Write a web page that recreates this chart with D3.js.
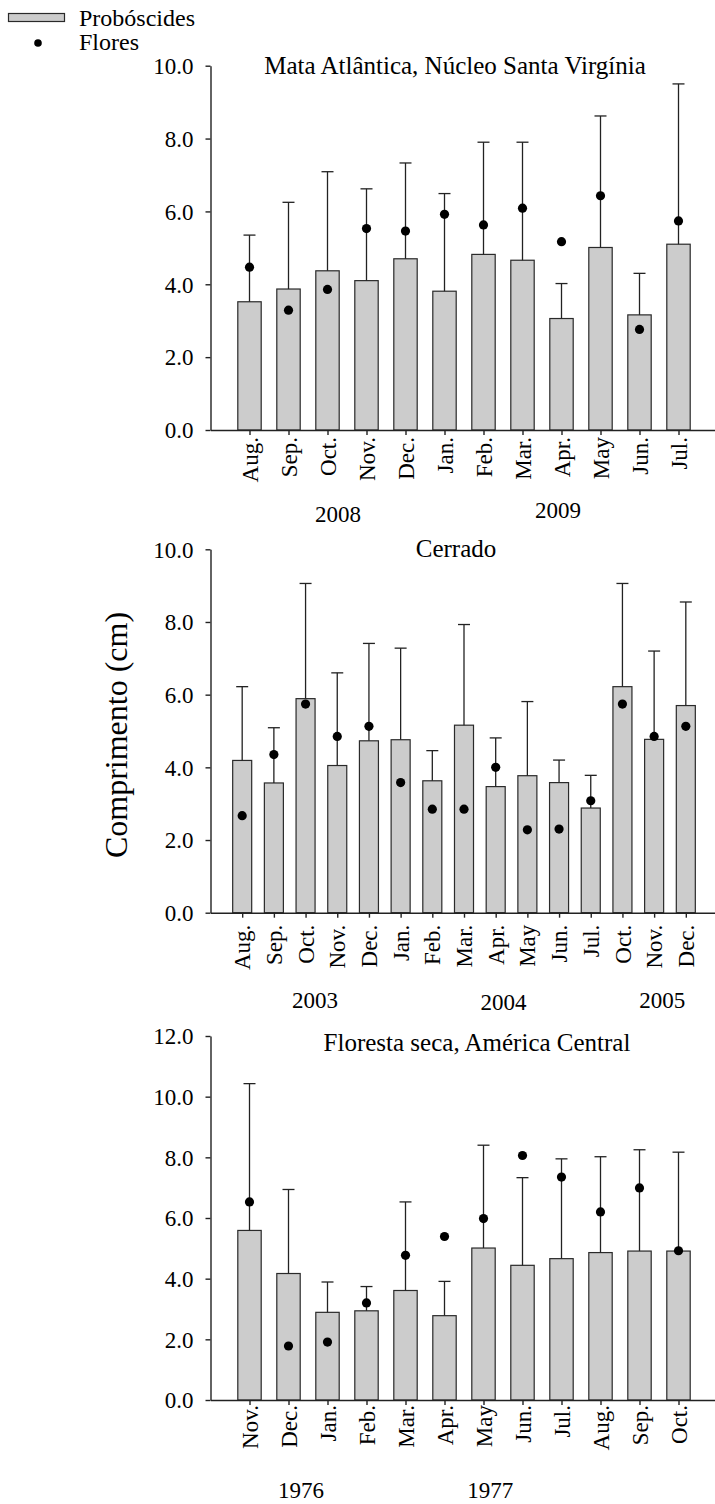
<!DOCTYPE html>
<html>
<head>
<meta charset="utf-8">
<script src="https://cdn.jsdelivr.net/npm/d3@7"></script>
<style>
  body { margin: 0; background: #fff; }
  svg text { font-family: "Liberation Serif", "Times New Roman", serif; fill: #000; }
  .axis path, .axis line { stroke: #222; stroke-width: 1.4; }
</style>
</head>
<body>
<svg id="chart" width="715" height="1504"></svg>
<script>
'use strict';

// Mata Atlântica, Núcleo Santa Virgínia
const mataMonths = ["Aug.", "Sep.", "Oct.", "Nov.", "Dec.", "Jan.", "Feb.", "Mar.", "Apr.", "May", "Jun.", "Jul."];
const mataProboscis = [3.52, 3.87, 4.37, 4.10, 4.70, 3.81, 4.82, 4.66, 3.06, 5.01, 3.16, 5.10];
const mataProboscisSd = [1.83, 2.38, 2.72, 2.52, 2.63, 2.68, 3.08, 3.24, 0.96, 3.61, 1.14, 4.40];
const mataFlowers = [4.47, 3.29, 3.86, 5.53, 5.46, 5.92, 5.63, 6.09, 5.17, 6.43, 2.76, 5.74];
const mataYears = ["2008", "2009"];

// Cerrado
const cerradoMonths = ["Aug.", "Sep.", "Oct.", "Nov.", "Dec.", "Jan.", "Feb.", "Mar.", "Apr.", "May", "Jun.", "Jul.", "Oct.", "Nov.", "Dec."];
const cerradoProboscis = [4.19, 3.57, 5.89, 4.05, 4.73, 4.76, 3.63, 5.16, 3.47, 3.77, 3.58, 2.88, 6.22, 4.77, 5.70];
const cerradoProboscisSd = [2.03, 1.52, 3.17, 2.55, 2.68, 2.52, 0.83, 2.77, 1.34, 2.04, 0.62, 0.90, 2.84, 2.43, 2.85];
const cerradoFlowers = [2.67, 4.35, 5.74, 4.85, 5.13, 3.58, 2.85, 2.85, 4.00, 2.28, 2.30, 3.08, 5.74, 4.85, 5.13];
const cerradoYears = ["2003", "2004", "2005"];

// Floresta seca, América Central
const florestaMonths = ["Nov.", "Dec.", "Jan.", "Feb.", "Mar.", "Apr.", "May", "Jun.", "Jul.", "Aug.", "Sep.", "Oct."];
const florestaProboscis = [5.59, 4.17, 2.89, 2.94, 3.61, 2.78, 5.01, 4.44, 4.66, 4.86, 4.91, 4.91];
const florestaProboscisSd = [4.84, 2.77, 1.00, 0.80, 2.92, 1.13, 3.39, 2.89, 3.29, 3.16, 3.34, 3.26];
const florestaFlowers = [6.53, 1.78, 1.91, 3.20, 4.77, 5.39, 5.98, 8.06, 7.35, 6.20, 6.99, 4.92];
const florestaYears = ["1976", "1977"];

const svg = d3.select("#chart");
const left = 210.5, right = 717.5;

function drawPanel(p) {
  const n = p.months.length;
  const x = d3.scaleLinear().domain([0, n + 1]).range([left, right]);
  const y = d3.scaleLinear().domain([0, p.yMax]).range([p.bottom, p.top]);
  const step = x(1) - x(0);
  const barW = step * 0.6;
  const g = svg.append("g");

  // bars
  g.selectAll("rect.bar")
    .data(p.bars)
    .enter().append("rect")
      .attr("class", "bar")
      .attr("x", (d, i) => x(i + 1) - barW / 2)
      .attr("y", d => y(d))
      .attr("width", barW)
      .attr("height", d => y(0) - y(d))
      .style("fill", "#cccccc")
      .style("stroke", "#2a2a2a")
      .style("stroke-width", 1.2);

  // error bars (upper only)
  const errs = g.selectAll("g.err")
    .data(p.bars.map((d, i) => ({mean: d, sd: p.sd[i], i: i})))
    .enter().append("g").attr("class", "err")
      .style("stroke", "#222").style("stroke-width", 1.3);
  errs.append("line")
    .attr("x1", d => x(d.i + 1)).attr("x2", d => x(d.i + 1))
    .attr("y1", d => y(d.mean)).attr("y2", d => y(d.mean + d.sd));
  errs.append("line")
    .attr("x1", d => x(d.i + 1) - 6).attr("x2", d => x(d.i + 1) + 6)
    .attr("y1", d => y(d.mean + d.sd)).attr("y2", d => y(d.mean + d.sd));

  // flowers
  g.selectAll("circle.flower")
    .data(p.flowers)
    .enter().append("circle")
      .attr("class", "flower")
      .attr("cx", (d, i) => x(i + 1))
      .attr("cy", d => y(d))
      .attr("r", 4.6)
      .style("fill", "#000");

  // axes
  const xAxis = d3.axisBottom(x)
    .tickValues(d3.range(1, n + 1))
    .tickFormat(d => p.months[d - 1])
    .tickSize(5).tickSizeOuter(0);
  const xg = g.append("g").attr("class", "axis")
    .attr("transform", `translate(0,${p.bottom})`)
    .call(xAxis);
  xg.selectAll("text")
    .attr("transform", "rotate(-90)")
    .attr("x", -p.labelGap).attr("y", 0).attr("dy", "0.33em")
    .style("text-anchor", "end")
    .style("font-size", p.labelSize + "px");

  const yAxis = d3.axisLeft(y)
    .tickValues(d3.range(0, p.yMax + 0.1, 2))
    .tickFormat(d => d.toFixed(1))
    .tickSize(5).tickSizeOuter(0).tickPadding(12);
  const yg = g.append("g").attr("class", "axis")
    .attr("transform", `translate(${left},0)`)
    .call(yAxis);
  yg.selectAll("text").style("font-size", "23px").attr("dy", "0.34em");
  svg.selectAll(".axis .domain").style("fill", "none");

  // title
  g.append("text")
    .attr("x", p.titleX).attr("y", p.titleY)
    .style("text-anchor", "middle").style("font-size", "25px")
    .text(p.title);

  // years
  g.selectAll("text.year")
    .data(p.years)
    .enter().append("text")
      .attr("class", "year")
      .attr("x", (d, i) => x(p.yearAt[i]))
      .attr("y", (d, i) => p.yearY[i])
      .style("text-anchor", "middle").style("font-size", "23px")
      .text(d => d);
}

drawPanel({
  months: mataMonths, bars: mataProboscis, sd: mataProboscisSd, flowers: mataFlowers,
  years: mataYears, yearAt: [3.27, 8.91], yearY: [522, 518],
  yMax: 10, top: 65.7, bottom: 430,
  title: "Mata Atlântica, Núcleo Santa Virgínia", titleX: 455, titleY: 74,
  labelGap: 7, labelSize: 23
});

drawPanel({
  months: cerradoMonths, bars: cerradoProboscis, sd: cerradoProboscisSd, flowers: cerradoFlowers,
  years: cerradoYears, yearAt: [3.30, 9.25, 14.26], yearY: [1008, 1010, 1008],
  yMax: 10, top: 549.3, bottom: 912.7,
  title: "Cerrado", titleX: 456, titleY: 557,
  labelGap: 12, labelSize: 23
});

drawPanel({
  months: florestaMonths, bars: florestaProboscis, sd: florestaProboscisSd, flowers: florestaFlowers,
  years: florestaYears, yearAt: [2.32, 7.17], yearY: [1498, 1498],
  yMax: 12, top: 1036, bottom: 1400,
  title: "Floresta seca, América Central", titleX: 477, titleY: 1051,
  labelGap: 5, labelSize: 23
});

// y axis title
svg.append("text")
  .attr("transform", "translate(127,735) rotate(-90)")
  .style("text-anchor", "middle").style("font-size", "32px")
  .text("Comprimento (cm)");

// legend
const legend = svg.append("g");
legend.append("rect")
  .attr("x", 8.5).attr("y", 13.5).attr("width", 56).attr("height", 8)
  .style("fill", "#cccccc").style("stroke", "#2a2a2a").style("stroke-width", 1.2);
legend.append("text").attr("x", 79).attr("y", 26).style("font-size", "24px").text("Probóscides");
legend.append("circle").attr("cx", 38).attr("cy", 43).attr("r", 3.8).style("fill", "#000");
legend.append("text").attr("x", 79).attr("y", 50).style("font-size", "24px").text("Flores");
</script>
</body>
</html>
